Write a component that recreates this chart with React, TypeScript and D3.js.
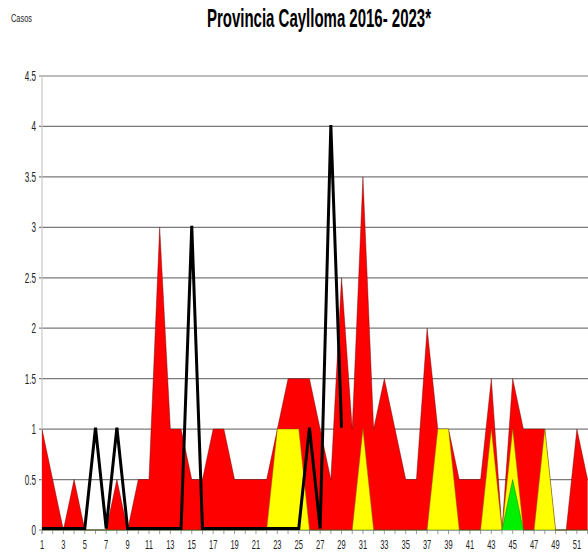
import React from "react";
import * as d3 from "d3";

const weeks: number[] = d3.range(1, 53);
const xTickWeeks: number[] = d3.range(1, 53, 2);
const yTicks: number[] = [0, 0.5, 1, 1.5, 2, 2.5, 3, 3.5, 4, 4.5];

// Zona epidémica (rojo)
const epidemica: number[] = [
  1, 0.5, 0, 0.5, 0, 0, 0, 0.5, 0, 0.5,
  0.5, 3, 1, 1, 0.5, 0.5, 1, 1, 0.5, 0.5,
  0.5, 0.5, 1, 1.5, 1.5, 1.5, 1, 0.5, 2.5, 1,
  3.5, 1, 1.5, 1, 0.5, 0.5, 2, 1, 1, 0.5,
  0.5, 0.5, 1.5, 0, 1.5, 1, 1, 1, 0, 0,
  1, 0.5,
];
// Zona de alarma (amarillo)
const alarma: number[] = [
  0, 0, 0, 0, 0, 0, 0, 0, 0, 0,
  0, 0, 0, 0, 0, 0, 0, 0, 0, 0,
  0, 0, 1, 1, 1, 0, 0, 0, 0, 0,
  1, 0, 0, 0, 0, 0, 0, 1, 1, 0,
  0, 0, 1, 0, 1, 0, 0, 1, 0, 0,
  0, 0,
];
// Zona de seguridad (verde)
const seguridad: number[] = [
  0, 0, 0, 0, 0, 0, 0, 0, 0, 0,
  0, 0, 0, 0, 0, 0, 0, 0, 0, 0,
  0, 0, 0, 0, 0, 0, 0, 0, 0, 0,
  0, 0, 0, 0, 0, 0, 0, 0, 0, 0,
  0, 0, 0, 0, 0.5, 0, 0, 0, 0, 0,
  0, 0,
];
// Casos 2023 (línea negra)
const casos2023: number[] = [
  0, 0, 0, 0, 0, 1, 0, 1, 0, 0,
  0, 0, 0, 0, 3, 0, 0, 0, 0, 0,
  0, 0, 0, 0, 0, 1, 0, 4, 1,
];

const W = 588;
const H = 552;
const FONT = "'Liberation Sans', Arial, sans-serif";

export default function App() {
  const x = d3.scaleLinear().domain([1, 52]).range([42, 587.6]);
  const y = d3.scaleLinear().domain([0, 4.5]).range([530, 76]);

  const area = d3
    .area<number>()
    .x((_, i) => x(weeks[i]))
    .y0(y(0))
    .y1((d) => y(d));
  const line = d3
    .line<number>()
    .x((_, i) => x(weeks[i]))
    .y((d) => y(d));

  const zones = [
    { data: epidemica, fill: "#ff0000", stroke: "#5a0000" },
    { data: alarma, fill: "#ffff00", stroke: "#6b6b00" },
    { data: seguridad, fill: "#00f000", stroke: "#005500" },
  ];

  return (
    <svg
      width={W}
      height={H}
      style={{ position: "absolute", left: 0, top: 0, background: "#fff" }}
      fontFamily={FONT}
    >
      <rect x={0} y={0} width={W} height={H} fill="#fff" />
      {/* gridlines */}
      {yTicks.map((t) => (
        <line
          key={"g" + t}
          x1={39}
          x2={W}
          y1={y(t)}
          y2={y(t)}
          stroke="#7a7a7a"
          strokeWidth={1.2}
        />
      ))}
      {/* y axis */}
      <line x1={42} x2={42} y1={y(4.5)} y2={534} stroke="#c8c8c8" strokeWidth={1.2} />
      {/* x ticks */}
      {weeks.map((w) => (
        <line
          key={"xt" + w}
          x1={x(w)}
          x2={x(w)}
          y1={530}
          y2={534}
          stroke="#9a9a9a"
          strokeWidth={1}
        />
      ))}
      {/* zones */}
      {zones.map((z, i) => (
        <g key={"z" + i}>
          <path d={area(z.data) || ""} fill={z.fill} />
          <path d={line(z.data) || ""} fill="none" stroke={z.stroke} strokeWidth={0.6} strokeOpacity={0.7} />
        </g>
      ))}
      {/* 2023 line */}
      <path
        d={line(casos2023) || ""}
        fill="none"
        stroke="#000"
        strokeWidth={3}
        strokeLinejoin="miter"
        transform="translate(0,-1.5)"
      />
      {/* y labels */}
      {yTicks.map((t) => (
        <text
          key={"yl" + t}
          transform={`translate(36,${y(t) + 5}) scale(0.58,1)`}
          textAnchor="end"
          fontSize={14}
          fill="#222"
        >
          {String(t)}
        </text>
      ))}
      {/* x labels */}
      {xTickWeeks.map((w) => (
        <text
          key={"xl" + w}
          transform={`translate(${x(w)},548.5) scale(0.6,1)`}
          textAnchor="middle"
          fontSize={12.5}
          fill="#222"
        >
          {String(w)}
        </text>
      ))}
      {/* Casos */}
      <text x={11} y={22} fontSize={11.5} textLength={21} lengthAdjust="spacingAndGlyphs" fill="#222">
        Casos
      </text>
      {/* title */}
      <text
        x={207}
        y={26.5}
        fontSize={25}
        fontWeight="bold"
        textLength={224}
        lengthAdjust="spacingAndGlyphs"
        fill="#000"
      >
        Provincia Caylloma 2016- 2023*
      </text>
    </svg>
  );
}
